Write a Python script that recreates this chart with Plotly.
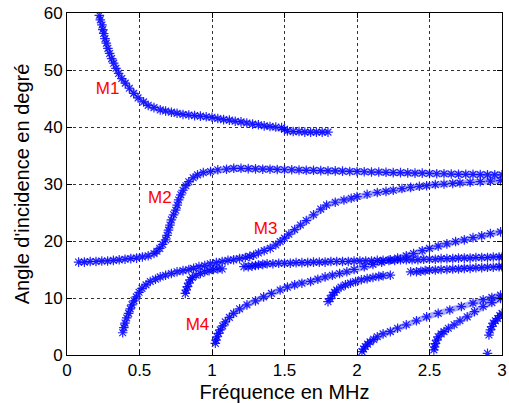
import plotly.graph_objects as go

# ---- data ----
m1_x = [0.223,0.23,0.241,0.247,0.253,0.262,0.271,0.282,0.294,0.308,0.322,0.338,0.356,0.378,0.402,0.43,0.46,0.49,0.528,0.56,0.6,0.643,0.68,0.72,0.759,0.8,0.84,0.88,0.92,0.96,1.0,1.04,1.08,1.12,1.16,1.2,1.24,1.28,1.32,1.36,1.4,1.44,1.48,1.5,1.52,1.56,1.6,1.64,1.68,1.72,1.76,1.8]
m1_y = [59.6,58.8,57.9,57.1,56.4,55.5,54.7,53.8,52.9,52.0,51.2,50.3,49.4,48.5,47.7,46.8,45.9,45.1,44.4,43.8,43.4,43.0,42.8,42.6,42.4,42.2,42.1,42.0,41.9,41.8,41.7,41.5,41.3,41.2,41.0,40.9,40.7,40.5,40.4,40.2,40.1,40.0,39.9,39.6,39.3,39.2,39.2,39.1,39.1,39.1,39.1,39.1]

m2_x = [0.08,0.12,0.16,0.2,0.24,0.28,0.32,0.36,0.4,0.44,0.48,0.52,0.56,0.6,0.62,0.64,0.66,0.68,0.69,0.7,0.71,0.72,0.735,0.75,0.76,0.77,0.785,0.8,0.82,0.84,0.87,0.9,0.94,0.99,1.04,1.1,1.15,1.2,1.25,1.3,1.35,1.4,
        1.45,1.5,1.55,1.6,1.65,1.7,1.75,1.8,1.85,1.9,1.95,2.0,2.05,2.1,2.15,2.2,2.25,2.3,2.35,2.4,2.45,2.5,2.55,2.6,2.65,2.7,2.75,2.8,2.85,2.9,2.95,3.0]
m2_y = [16.3,16.3,16.4,16.4,16.5,16.5,16.6,16.7,16.8,16.9,17.0,17.2,17.4,17.8,18.2,18.7,19.4,20.2,21.0,21.9,22.8,23.7,24.6,25.4,26.3,27.2,28.1,28.9,29.7,30.4,31.1,31.6,32.0,32.2,32.5,32.6,32.75,32.75,32.7,32.65,32.6,32.6,
        32.55,32.5,32.5,32.45,32.4,32.4,32.35,32.3,32.3,32.25,32.2,32.2,32.15,32.1,32.1,32.05,32.0,32.0,31.95,31.9,31.9,31.85,31.8,31.8,31.75,31.7,31.7,31.7,31.65,31.6,31.6,31.6]

m3_x = [0.384,0.392,0.40,0.412,0.425,0.436,0.448,0.462,0.478,0.497,0.517,0.545,0.574,0.61,0.643,0.68,0.72,0.759,0.8,0.84,0.873,0.91,0.95,0.988,1.03,1.07,1.11,1.149,1.19,1.23,1.26,1.287,1.32,1.36,1.402,1.44,1.47,1.5,1.53,1.57,1.61,1.65,1.7,1.75,1.79,1.85,1.91,1.96,2.0,2.07,2.14,2.2,2.25,2.31,2.37,2.43,2.48,2.54,2.6,2.66,2.71,2.78,2.85,2.92,2.99]
m3_y = [3.9,4.8,5.6,6.5,7.3,8.1,8.8,9.5,10.2,11.0,11.7,12.3,12.9,13.3,13.7,14.0,14.3,14.6,14.8,15.0,15.2,15.5,15.7,16.0,16.2,16.4,16.6,16.7,16.9,17.1,17.3,17.5,17.9,18.3,18.7,19.3,19.9,20.5,21.2,22.0,22.8,23.6,24.6,25.6,26.3,26.8,27.2,27.5,27.8,28.2,28.5,28.7,28.9,29.2,29.4,29.6,29.7,29.9,30.0,30.1,30.2,30.3,30.4,30.5,30.6]

b_x = [0.816,0.822,0.83,0.84,0.85,0.865,0.89,0.92,0.95,0.98,1.01,1.04,1.07]
b_y = [10.8,11.4,12.0,12.6,13.2,13.6,14.0,14.3,14.6,14.8,15.0,15.1,15.1]

f1_x = [1.22,1.25,1.276,1.30,1.32,1.35,1.38,1.42,1.46,1.5,1.54,1.58,1.62,1.66,1.7,1.74,1.78,1.82,1.86,1.9,1.94,1.98,2.02,2.06,2.1,2.14,2.18,2.22,2.26,2.3,2.34,2.38,2.42,2.46,2.5,2.54,2.58,2.62,2.66,2.7,2.74,2.78,2.82,2.86,2.9,2.94,2.98,3.0]
f1_y = [15.5,15.5,15.6,15.7,15.8,15.9,16.0,16.0,16.1,16.1,16.1,16.2,16.2,16.2,16.3,16.3,16.3,16.4,16.4,16.4,16.4,16.5,16.5,16.5,16.5,16.6,16.6,16.6,16.6,16.7,16.7,16.7,16.7,16.8,16.8,16.8,16.9,16.9,16.9,17.0,17.0,17.0,17.1,17.1,17.1,17.2,17.2,17.2]

d_x = [2.37,2.41,2.44,2.47,2.5,2.54,2.58,2.62,2.66,2.7,2.74,2.78,2.82,2.86,2.9,2.94,2.98,3.0]
d_y = [14.6,14.6,14.7,14.8,14.9,14.9,15.0,15.0,15.1,15.1,15.2,15.2,15.3,15.3,15.4,15.4,15.5,15.5]

c_x = [1.80,1.815,1.83,1.845,1.86,1.89,1.92,1.955,1.99,2.03,2.07,2.11,2.15,2.18,2.23]
c_y = [9.35,9.9,10.5,11.0,11.4,11.9,12.3,12.6,12.9,13.2,13.4,13.6,13.8,13.9,14.0]

m4_x = [1.023,1.028,1.034,1.045,1.057,1.074,1.092,1.12,1.149,1.19,1.241,1.3,1.356,1.41,1.47,1.52,1.57,1.62,1.68,1.73,1.78,1.83,1.88,1.93,1.98,2.05,2.11,2.17,2.23,2.28,2.34,2.39,2.45,2.5,2.56,2.62,2.68,2.74,2.8,2.86,2.92,2.99]
m4_y = [2.05,2.6,3.2,3.8,4.4,5.1,5.8,6.6,7.3,8.1,8.8,9.5,10.2,10.8,11.4,11.9,12.3,12.6,12.9,13.3,13.7,14.0,14.3,14.6,15.0,15.5,15.9,16.3,16.7,17.0,17.4,17.8,18.3,18.7,19.1,19.5,19.9,20.2,20.6,20.9,21.3,21.6]

e_x = [2.034,2.045,2.057,2.073,2.09,2.115,2.14,2.18,2.23,2.28,2.34,2.41,2.48,2.56,2.64,2.72,2.80,2.87,2.93,2.99]
e_y = [0.6,1.05,1.5,1.9,2.3,2.75,3.2,3.7,4.1,4.7,5.3,6.0,6.7,7.3,7.9,8.5,9.1,9.7,10.1,10.5]

f_x = [2.53,2.535,2.54,2.55,2.56,2.58,2.6,2.63,2.67,2.71,2.76,2.81,2.87,2.93,2.99]
f_y = [0.9,1.4,2.0,2.6,3.2,3.7,4.1,4.7,5.3,6.0,6.7,7.6,8.5,9.2,9.9]

g_x = [2.91,2.92,2.93,2.94,2.955,2.97,2.985,3.0]
g_y = [3.5,4.4,5.0,5.6,6.0,6.4,6.9,7.3]

iso_x = [2.90]
iso_y = [0.3]

curves = [(m1_x, m1_y), (m2_x, m2_y), (m3_x, m3_y), (b_x, b_y), (f1_x, f1_y),
          (d_x, d_y), (c_x, c_y), (m4_x, m4_y), (e_x, e_y), (f_x, f_y), (g_x, g_y)]

labels = ["M1", "M2", "M3", "M4"]
label_x = [0.28, 0.64, 1.37, 0.90]
label_y = [46.5, 27.5, 21.9, 5.1]

FONT = "Liberation Sans, Arial, Helvetica"
BLUE = "rgba(0,0,255,0.85)"

fig = go.Figure()
# faint band under the dense markers
for cx, cy in curves:
    fig.add_trace(go.Scatter(
        x=cx, y=cy, mode="lines",
        line=dict(color="rgba(70,70,255,0.45)", width=6),
        showlegend=False, hoverinfo="skip"))
for cx, cy in curves + [(iso_x, iso_y)]:
    fig.add_trace(go.Scatter(
        x=cx, y=cy, mode="markers",
        marker=dict(symbol="asterisk-open", size=8, color=BLUE,
                    line=dict(width=1.2, color=BLUE)),
        showlegend=False, hoverinfo="skip"))

fig.add_trace(go.Scatter(
    x=label_x, y=label_y, mode="text", text=labels,
    textfont=dict(family=FONT, size=17, color="#FF0000"),
    showlegend=False, hoverinfo="skip"))

axis_common = dict(
    showline=True, linecolor="#000000", linewidth=1, mirror="ticks",
    ticks="inside", ticklen=5, tickcolor="#000000",
    showgrid=True, gridcolor="#333333", gridwidth=1, griddash="3px,3px",
    zeroline=False, automargin=False,
    tickfont=dict(family=FONT, size=17, color="#000000"),
)

fig.update_layout(
    width=509, height=403,
    margin=dict(l=67, r=7, t=13, b=48),
    paper_bgcolor="#FFFFFF", plot_bgcolor="#FFFFFF",
    xaxis=dict(range=[0, 3], tickvals=[0, 0.5, 1, 1.5, 2, 2.5, 3],
               ticktext=["0", "0.5", "1", "1.5", "2", "2.5", "3"],
               title=dict(text="Fréquence en MHz", standoff=6,
                          font=dict(family=FONT, size=20, color="#000000")),
               **axis_common),
    yaxis=dict(range=[0, 60], tickvals=[0, 10, 20, 30, 40, 50, 60],
               title=dict(text="Angle d'incidence en degré", standoff=8,
                          font=dict(family=FONT, size=20, color="#000000")),
               **axis_common),
)

fig.write_html("out.html")
